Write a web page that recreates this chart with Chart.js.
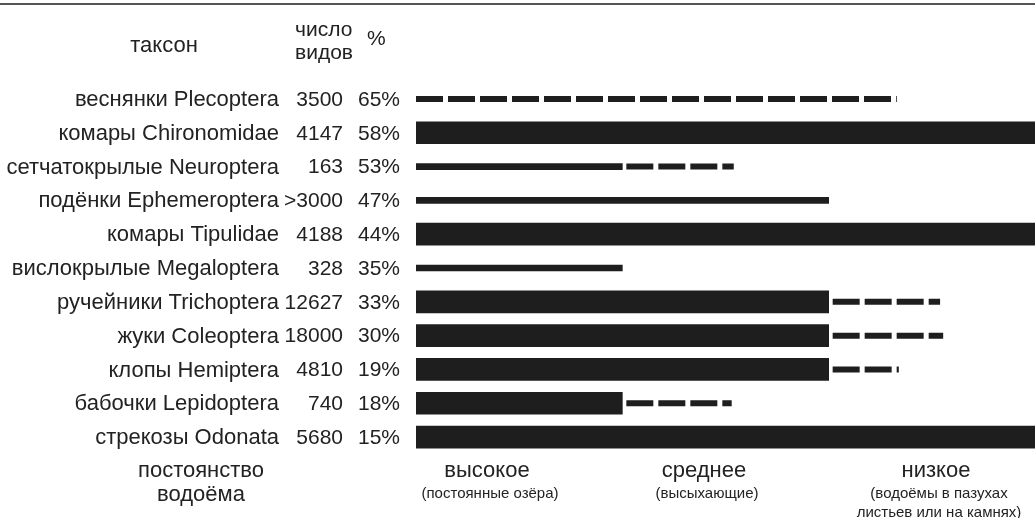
<!DOCTYPE html>
<html>
<head>
<meta charset="utf-8">
<script src="https://cdn.jsdelivr.net/npm/chart.js@4"></script>
<style>
html,body{margin:0;padding:0;background:#fff;}
canvas{display:block;}
</style>
</head>
<body>
<canvas id="c" width="1035" height="518"></canvas>
<script>
// ---- data ----
const taxa = ['веснянки Plecoptera','комары Chironomidae','сетчатокрылые Neuroptera','подёнки Ephemeroptera','комары Tipulidae','вислокрылые Megaloptera','ручейники Trichoptera','жуки Coleoptera','клопы Hemiptera','бабочки Lepidoptera','стрекозы Odonata'];
const speciesCount = ['3500','4147','163','>3000','4188','328','12627','18000','4810','740','5680'];
const percent = [65,58,53,47,44,35,33,30,19,18,15];
// 0..1 = высокое, 1..2 = среднее, 2..3 = низкое постоянство водоёма
const thickEnd = [null,3,null,null,3,null,2,2,2,1,3];
const thinEnd  = [null,null,1,2,null,1,null,null,null,null,null];
const dashStart = [0,null,1,null,null,null,2,2,2,1,null];
const dashEnd   = [2.33,null,1.54,null,null,null,2.54,2.555,2.34,1.53,null];
const levelNames = ['высокое','среднее','низкое'];
const levelNotes = [['(постоянные озёра)'],['(высыхающие)'],['(водоёмы в пазухах','листьев или на камнях)']];
const headers = {taxon:'таксон', count:['число','видов'], pct:'%', perm:['постоянство','водоёма']};

// ---- style ----
const INK = '#1e1e1e';
const TXT = '#222222';
const FONT = '"Liberation Sans", Arial, Helvetica, sans-serif';

const datasets = [
  {type:'bar', label:'thick', data: thickEnd.map(e => e===null?null:[0,e]), backgroundColor: INK, barThickness:22, order:2},
  {type:'bar', label:'thin', data: thinEnd.map(e => e===null?null:[0,e]), backgroundColor: INK, barThickness:6, order:2}
];
taxa.forEach((t,i) => {
  if (dashStart[i] === null) return;
  datasets.push({
    type:'line', label:'dash'+i, indexAxis:'y',
    data:[{x:dashStart[i], y:t},{x:dashEnd[i], y:t}],
    borderColor: INK, borderWidth:6, borderDash:[27,5],
    borderDashOffset: dashStart[i] > 0 ? 28 : 0,
    borderCapStyle:'butt', pointRadius:0, fill:false, order:1
  });
});

const textPlugin = {
  id:'tableText',
  afterDraw(chart){
    const ctx = chart.ctx;
    const ys = chart.scales.y;
    ctx.save();
    ctx.fillStyle = '#555';
    ctx.fillRect(0, 3, chart.width, 2);
    ctx.fillStyle = TXT;
    ctx.textBaseline = 'middle';
    // headers
    ctx.font = '22px ' + FONT;
    ctx.textAlign = 'center';
    ctx.fillText(headers.taxon, 164, 46);
    ctx.font = '21px ' + FONT;
    ctx.textAlign = 'left';
    ctx.fillText(headers.count[0], 295, 30);
    ctx.fillText(headers.count[1], 295, 53);
    ctx.fillText(headers.pct, 367, 39);
    // rows
    taxa.forEach((t,i) => {
      const y = ys.getPixelForValue(i) + 1;
      ctx.textAlign = 'right';
      ctx.font = '22px ' + FONT;
      ctx.fillText(t, 279, y);
      ctx.font = '21px ' + FONT;
      ctx.fillText(speciesCount[i], 343, y);
      ctx.fillText(percent[i] + '%', 400, y);
    });
    // bottom labels
    ctx.textAlign = 'center';
    ctx.font = '22px ' + FONT;
    ctx.fillText(headers.perm[0], 201, 471);
    ctx.fillText(headers.perm[1], 201, 495);
    const cx = [487, 704, 936];
    levelNames.forEach((n,k) => {
      ctx.font = '22px ' + FONT;
      ctx.fillText(n, cx[k], 471);
      ctx.font = '15px ' + FONT;
      levelNotes[k].forEach((s,j) => ctx.fillText(s, cx[k] + 3, 494 + j*19));
    });
    ctx.restore();
  }
};

new Chart(document.getElementById('c'), {
  type:'bar',
  data:{labels: taxa, datasets},
  options:{
    indexAxis:'y',
    responsive:false,
    animation:false,
    layout:{padding:{left:416, right:0, top:82, bottom:64}},
    plugins:{legend:{display:false}, tooltip:{enabled:false}},
    scales:{
      x:{type:'linear', min:0, max:3, display:false},
      y:{type:'category', display:false, offset:true, grid:{display:false}}
    },
    datasets:{bar:{grouped:false}}
  },
  plugins:[textPlugin]
});
</script>
</body>
</html>
